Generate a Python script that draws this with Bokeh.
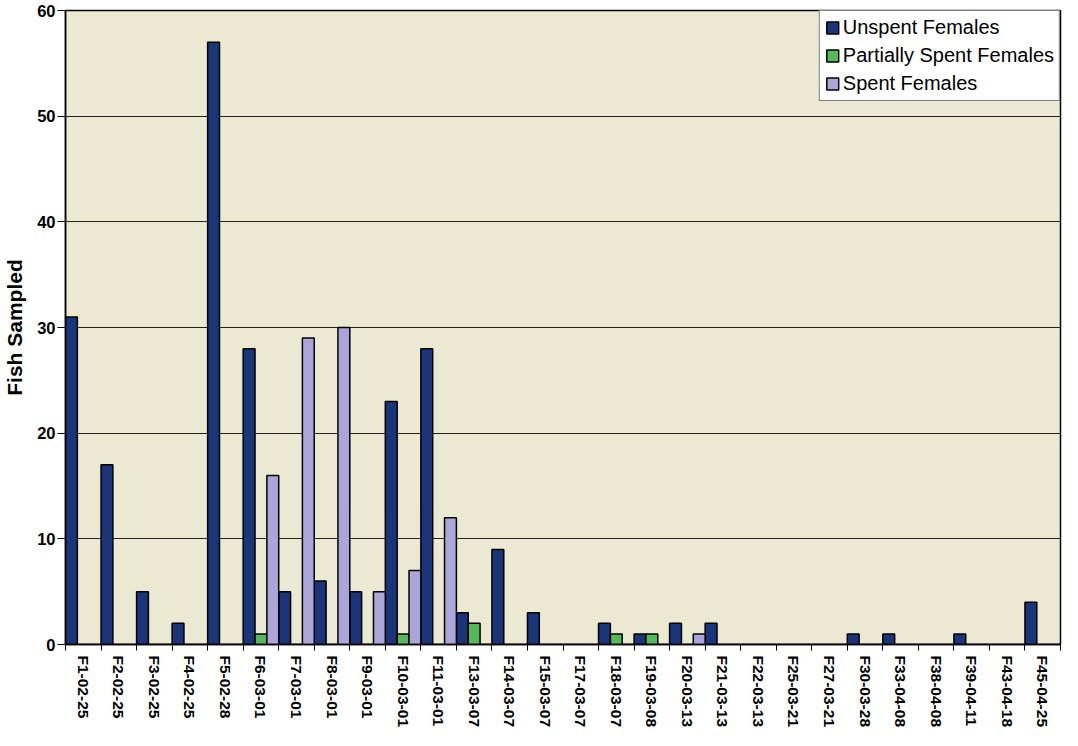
import numpy as np
from bokeh.plotting import figure
from bokeh.models import ColumnDataSource, Range1d, FixedTicker, Legend, LegendItem
from bokeh.transform import dodge
from bokeh.embed import file_html
from bokeh.resources import INLINE

categories = ["F1-02-25", "F2-02-25", "F3-02-25", "F4-02-25", "F5-02-28", "F6-03-01",
              "F7-03-01", "F8-03-01", "F9-03-01", "F10-03-01", "F11-03-01", "F13-03-07",
              "F14-03-07", "F15-03-07", "F17-03-07", "F18-03-07", "F19-03-08", "F20-03-13",
              "F21-03-13", "F22-03-13", "F25-03-21", "F27-03-21", "F30-03-28", "F33-04-08",
              "F38-04-08", "F39-04-11", "F43-04-18", "F45-04-25"]
unspent = [31, 17, 5, 2, 57, 28, 5, 6, 5, 23, 28, 3, 9, 3, 0, 2, 1, 2, 2, 0, 0, 0, 1, 1, 0, 1, 0, 4]
partial = [0, 0, 0, 0, 0, 1, 0, 0, 0, 1, 0, 2, 0, 0, 0, 1, 1, 0, 0, 0, 0, 0, 0, 0, 0, 0, 0, 0]
spent   = [0, 0, 0, 0, 0, 16, 29, 30, 5, 7, 12, 0, 0, 0, 0, 0, 0, 1, 0, 0, 0, 0, 0, 0, 0, 0, 0, 0]
y_ticks = [0, 10, 20, 30, 40, 50, 60]

n = len(categories)
centers = [i + 0.5 for i in range(n)]
src = ColumnDataSource(dict(x=centers, unspent=unspent, partial=partial, spent=spent))

FONT = "Liberation Sans"
p = figure(width=1062, height=730, output_backend="svg", toolbar_location=None,
           x_range=Range1d(0, n), y_range=Range1d(0, 60),
           min_border_left=65, min_border_right=2, min_border_top=10, min_border_bottom=84)
p.background_fill_color = "#ECE9D3"
p.border_fill_color = "white"
p.outline_line_color = "black"
p.outline_line_width = 1.5

w = 1 / 3
r1 = p.vbar(x=dodge("x", -w, range=p.x_range), top="unspent", width=w, source=src,
            fill_color="#1A3579", line_color="black", line_width=1.5)
r2 = p.vbar(x=dodge("x", 0, range=p.x_range), top="partial", width=w, source=src,
            fill_color="#55B85A", line_color="black", line_width=1.5)
r3 = p.vbar(x=dodge("x", w, range=p.x_range), top="spent", width=w, source=src,
            fill_color="#ABA5DA", line_color="black", line_width=1.5)

# axes
xax = p.xaxis[0]
xax.ticker = FixedTicker(ticks=centers, minor_ticks=list(range(n + 1)))
xax.major_label_overrides = {c: lab for c, lab in zip(centers, categories)}
xax.major_label_orientation = "vertical"
xax.major_tick_line_color = None
xax.minor_tick_line_color = "black"
xax.minor_tick_out = 6
xax.minor_tick_in = 0
xax.axis_line_color = "black"
xax.axis_line_width = 1.5
xax.major_label_text_font = FONT
xax.major_label_text_font_style = "bold"
xax.major_label_text_font_size = "15.5px"
xax.major_label_text_color = "black"
xax.major_label_standoff = 5

yax = p.yaxis[0]
yax.ticker = FixedTicker(ticks=y_ticks, minor_ticks=[])
yax.major_tick_out = 8
yax.major_tick_in = 0
yax.axis_line_color = "black"
yax.axis_line_width = 1.5
yax.major_label_text_font = FONT
yax.major_label_text_font_style = "bold"
yax.major_label_text_font_size = "16.5px"
yax.major_label_text_color = "black"
yax.major_label_standoff = 2
yax.axis_label = "Fish Sampled"
yax.axis_label_text_font = FONT
yax.axis_label_text_font_style = "bold"
yax.axis_label_text_font_size = "21px"
yax.axis_label_text_color = "black"
yax.axis_label_standoff = 8

p.xgrid.grid_line_color = None
p.ygrid.grid_line_color = "#222222"
p.ygrid.grid_line_width = 1.2

legend = Legend(items=[LegendItem(label="Unspent Females", renderers=[r1]),
                       LegendItem(label="Partially Spent Females", renderers=[r2]),
                       LegendItem(label="Spent Females", renderers=[r3])],
                location="top_right")
legend.margin = 0
legend.padding = 5
legend.spacing = 5
legend.border_line_color = "black"
legend.border_line_width = 1.5
legend.background_fill_color = "white"
legend.background_fill_alpha = 1
legend.label_text_font = FONT
legend.label_text_font_size = "20px"
legend.label_text_color = "black"
legend.label_height = 22
legend.glyph_width = 15
legend.glyph_height = 15
legend.label_standoff = 3
p.add_layout(legend)

open("out.html", "w").write(file_html(p, INLINE))
